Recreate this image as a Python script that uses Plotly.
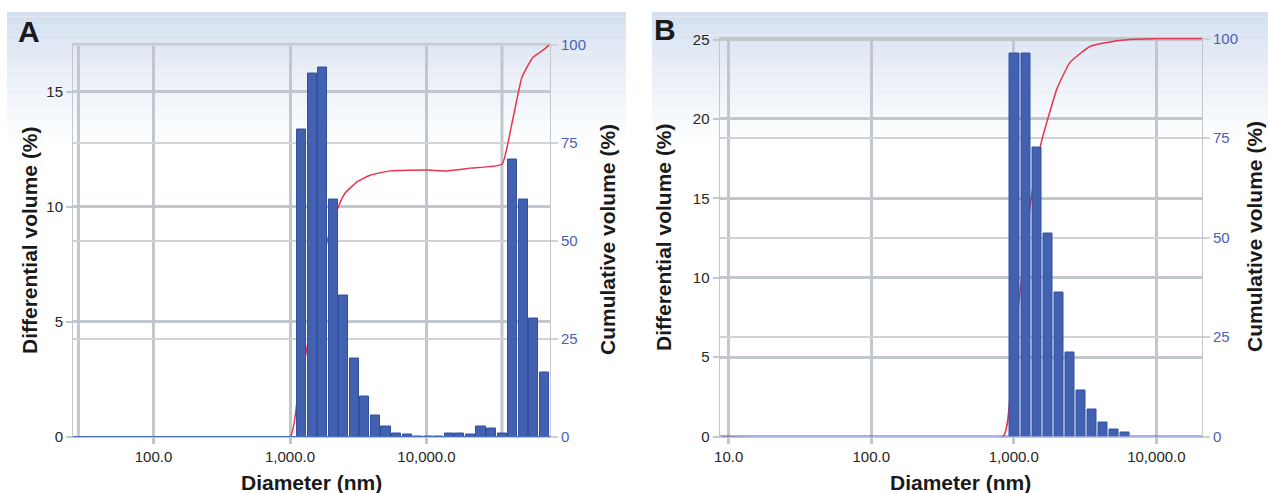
import numpy as np
import plotly.graph_objects as go

# ---------------- data ----------------
# Panel A : differential volume histogram (bin centres, nm) and cumulative curve
a_diam_nm = [1214, 1451, 1734, 2072, 2476, 2959, 3536, 4225, 5049, 6034, 7210, 8616,
             10296, 12304, 14703, 17570, 20996, 25090, 29983, 35830, 42816, 51165, 61142, 73065]
a_diff_pct = [13.35, 15.78, 16.07, 10.3, 6.13, 3.43, 1.74, 0.93, 0.45, 0.16, 0.09, 0.03,
              0.03, 0.03, 0.16, 0.16, 0.09, 0.45, 0.38, 0.16, 12.04, 10.3, 5.16, 2.8]
a_cum_diam_nm = [26, 1000, 1125, 1310, 1577, 1899, 2286, 2529, 3097, 3855, 5402, 10085,
                 14135, 20830, 35740, 42300, 50070, 60290, 71380, 78970]
a_cum_pct = [0, 0, 8.9, 21.4, 37.2, 50.8, 59.2, 62.2, 65.1, 66.8, 67.9, 68.1,
             67.9, 68.6, 69.6, 80.1, 91.8, 96.9, 98.7, 100]

# Panel B
b_diam_nm = [1015, 1214, 1451, 1734, 2072, 2476, 2959, 3536, 4225, 5049, 6034]
b_diff_pct = [24.13, 24.13, 18.23, 12.81, 9.04, 5.32, 2.87, 1.67, 0.91, 0.47, 0.28]
b_cum_diam_nm = [9, 840, 971, 1320, 1551, 2009, 2478, 3422, 5466, 10600, 20900]
b_cum_pct = [0, 0, 18.6, 59.7, 73.6, 87.4, 94, 98, 99.5, 100, 100]

a_xtick_nm = [100, 1000, 10000]
a_xtick_text = ["100.0", "1,000.0", "10,000.0"]
b_xtick_nm = [10, 100, 1000, 10000]
b_xtick_text = ["10.0", "100.0", "1,000.0", "10,000.0"]
a_diff_ticks = [0, 5, 10, 15]
b_diff_ticks = [0, 5, 10, 15, 20, 25]
cum_ticks = [0, 25, 50, 75, 100]

# ---------------- style ----------------
W, H = 1268, 493
FONT = "Liberation Sans, Arial, Helvetica, sans-serif"
BAR = "#4361b1"
BAR_EDGE = "#3350a0"
RED = "#e8344e"
BASE = "#4a6cc4"
GRID = "#c2c7cd"
GRID2 = "#cfd3d8"
TICKC = "#262626"
RTICKC = "#4a62b5"

def px_x(p):
    return p / W

def px_y(p):
    return (H - p) / H

a_xrange = [1.410, 4.905]
b_xrange = [0.936, 4.320]
bar_w = 0.067  # in log10 units

fig = go.Figure()

# cumulative lines (base axes, right side)
fig.add_trace(go.Scatter(x=np.log10(a_cum_diam_nm), y=a_cum_pct, mode="lines",
                         line=dict(color=RED, width=1.5, shape="spline", smoothing=0.4),
                         xaxis="x", yaxis="y", showlegend=False, hoverinfo="skip"))
fig.add_trace(go.Scatter(x=np.log10(b_cum_diam_nm), y=b_cum_pct, mode="lines",
                         line=dict(color=RED, width=1.5, shape="spline", smoothing=0.4),
                         xaxis="x2", yaxis="y3", showlegend=False, hoverinfo="skip"))

# bars (overlay axes, left side -> drawn on top)
fig.add_trace(go.Bar(x=np.log10(a_diam_nm), y=a_diff_pct, width=bar_w,
                     marker=dict(color=BAR, line=dict(color=BAR_EDGE, width=1)),
                     xaxis="x", yaxis="y2", showlegend=False))
fig.add_trace(go.Scatter(x=a_xrange, y=[0, 0], mode="lines", line=dict(color=BASE, width=2),
                         xaxis="x", yaxis="y2", showlegend=False, hoverinfo="skip"))
fig.add_trace(go.Bar(x=np.log10(b_diam_nm), y=b_diff_pct, width=bar_w,
                     marker=dict(color=BAR, line=dict(color=BAR_EDGE, width=1)),
                     xaxis="x2", yaxis="y4", showlegend=False))
fig.add_trace(go.Scatter(x=b_xrange, y=[0, 0], mode="lines", line=dict(color=BASE, width=2),
                         xaxis="x2", yaxis="y4", showlegend=False, hoverinfo="skip"))

tickfont = dict(family=FONT, size=15, color=TICKC)
rtickfont = dict(family=FONT, size=15, color=RTICKC)

def xaxis(domain, rng, vals, text, anchor):
    return dict(domain=domain, range=rng, anchor=anchor,
                tickvals=list(np.log10(vals)), ticktext=text,
                showgrid=True, gridcolor=GRID, gridwidth=2.5,
                ticks="outside", ticklen=6, tickwidth=2.5, tickcolor=GRID,
                showline=True, linecolor=GRID, linewidth=1, mirror=True,
                zeroline=False, tickfont=tickfont)

def right_axis(domain, rng, anchor):
    return dict(domain=domain, range=rng, anchor=anchor, side="right",
                tickvals=cum_ticks, showgrid=True, gridcolor=GRID2, gridwidth=2,
                ticks="outside", ticklen=7, tickwidth=1.5, tickcolor=GRID2,
                showline=True, linecolor=GRID, linewidth=1, zeroline=False,
                tickfont=rtickfont)

def left_axis(rng, anchor, over, ticks):
    return dict(range=rng, anchor=anchor, overlaying=over, side="left",
                tickvals=ticks, showgrid=True, gridcolor=GRID, gridwidth=2.5,
                ticks="outside", ticklen=6, tickwidth=1.5, tickcolor=GRID,
                showline=True, linecolor=GRID, linewidth=1, zeroline=False,
                tickfont=tickfont)

a_ydom = [px_y(437), px_y(43.5)]
b_ydom = [px_y(436.5), px_y(37.5)]

# gradient background for the two panels
shapes = []
n = 30
top_rgb = np.array([212, 224, 240])
for panel_x0, panel_x1 in [(7, 626), (652, 1268)]:
    for i in range(n):
        y0p = 12 + i * 4.5
        y1p = y0p + 4.6
        t = i / (n - 1)
        c = top_rgb + (np.array([255, 255, 255]) - top_rgb) * t ** 0.9
        shapes.append(dict(type="rect", xref="paper", yref="paper",
                           x0=px_x(panel_x0), x1=px_x(panel_x1), y0=px_y(y1p), y1=px_y(y0p),
                           fillcolor="rgb(%d,%d,%d)" % tuple(c.astype(int)),
                           line=dict(width=0), layer="below"))
# extra vertical guide lines in panel A
for xv in [1.45, 4.553]:
    shapes.append(dict(type="line", xref="x", yref="y domain", x0=xv, x1=xv, y0=0, y1=1,
                       line=dict(color=GRID, width=3), layer="below"))

title_font = dict(family=FONT, size=21, color="#1a1a1a")

def ann(text, xp, yp, font, angle=0):
    return dict(text=text, x=px_x(xp), y=px_y(yp), xref="paper", yref="paper",
                xanchor="center", yanchor="middle", textangle=angle,
                showarrow=False, font=font)

letter_font = dict(family=FONT, size=30, color="#1a1a1a")
annotations = [
    ann("<b>A</b>", 29, 31, letter_font),
    ann("<b>B</b>", 665, 30, letter_font),
    ann("<b>Differential volume (%)</b>", 29, 240, title_font, -90),
    ann("<b>Cumulative volume (%)</b>", 607, 240, title_font, -90),
    ann("<b>Diameter (nm)</b>", 311.5, 482, title_font),
    ann("<b>Differential volume (%)</b>", 663, 237, title_font, -90),
    ann("<b>Cumulative volume (%)</b>", 1254, 237, title_font, -90),
    ann("<b>Diameter (nm)</b>", 960.5, 482, title_font),
]

fig.update_layout(
    width=W, height=H,
    margin=dict(l=0, r=0, t=0, b=0, autoexpand=False),
    paper_bgcolor="white", plot_bgcolor="rgba(0,0,0,0)",
    xaxis=xaxis([px_x(73), px_x(550)], a_xrange, a_xtick_nm, a_xtick_text, "y"),
    yaxis=right_axis(a_ydom, [0, 100.4], "x"),
    yaxis2=left_axis([0, 17.1], "x", "y", a_diff_ticks),
    xaxis2=xaxis([px_x(719.5), px_x(1202)], b_xrange, b_xtick_nm, b_xtick_text, "y3"),
    yaxis3=right_axis(b_ydom, [0, 100.25], "x2"),
    yaxis4=left_axis([0, 25.13], "x2", "y3", b_diff_ticks),
    shapes=shapes, annotations=annotations,
    bargap=0,
)

fig.write_html("out.html", config={"displayModeBar": False},
               post_script="document.body.style.margin='0px';document.body.style.overflow='hidden';")
